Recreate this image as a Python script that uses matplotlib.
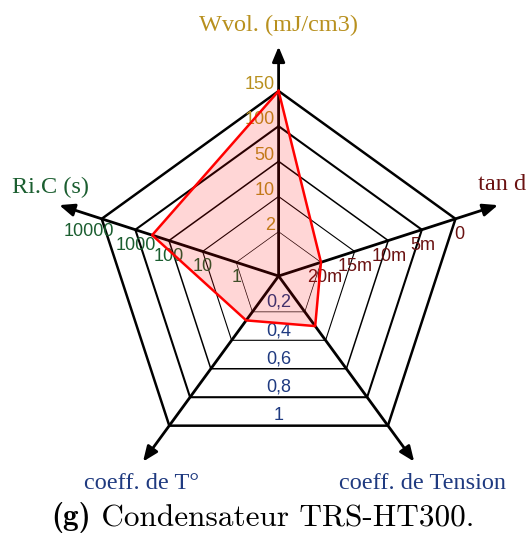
import numpy as np
import matplotlib.pyplot as plt

# axes of the radar, clockwise from top
axis_names = ["Wvol. (mJ/cm3)", "tan d", "coeff. de Tension", "coeff. de T°", "Ri.C (s)"]
axis_colors = ["#b8901e", "#6b1212", "#1f3a80", "#1f3a80", "#1b5e30"]
angles_deg = [90, 18, -54, -126, 162]

levels = [1, 2, 3, 4, 5]
wvol_ticks = ["2", "10", "50", "100", "150"]
tand_ticks = ["20m", "15m", "10m", "5m", "0"]
coeff_ticks = ["0,2", "0,4", "0,6", "0,8", "1"]
ric_ticks = ["1", "10", "100", "1000", "10000"]

# TRS-HT300 scores, in ring units (Wvol, tan d, coeff. Tension, coeff. T°, Ri.C)
trs_ht300 = [5, 1, 1.5, 1.3, 3.5]

angles = np.radians(angles_deg)


def radius(level):
    return (np.asarray(level, dtype=float) + 0.26) / 5.26


def point(level, ang):
    r = radius(level)
    return r * np.cos(ang), r * np.sin(ang)


fig = plt.figure(figsize=(5.26, 5.36), dpi=100)
ax = fig.add_axes([0, 0, 1, 1])
ax.set_xlim(-278.6 / 186, (526 - 278.6) / 186)
ax.set_ylim(-(536 - 276) / 185, 276 / 185)
ax.axis("off")

# rings
ring_lw = [0.5, 0.8, 1.1, 1.5, 1.8]
for k, lw in zip(levels, ring_lw):
    xs, ys = point(k, np.append(angles, angles[0]))
    ax.plot(xs, ys, color="black", lw=lw, zorder=1, solid_joinstyle="miter")

# spokes with arrows
for ang in angles:
    tip = (1.24 * np.cos(ang), 1.24 * np.sin(ang))
    ax.annotate("", xy=tip, xytext=(0, 0),
                arrowprops=dict(arrowstyle="-|>,head_length=0.6,head_width=0.25",
                                mutation_scale=15, lw=2.0, color="black",
                                shrinkA=0, shrinkB=0), zorder=1)

# axis titles
serif = "Liberation Serif"
fs_title = 17.5
ax.text(0, 1.357, axis_names[0], color=axis_colors[0], fontsize=fs_title, family=serif,
        ha="center", va="center")
ax.text(1.072, 0.492, axis_names[1], color=axis_colors[1], fontsize=fs_title, family=serif,
        ha="left", va="center")
ax.text(0.776, -1.119, axis_names[2], color=axis_colors[2], fontsize=fs_title, family=serif,
        ha="center", va="center")
ax.text(-0.736, -1.119, axis_names[3], color=axis_colors[3], fontsize=fs_title, family=serif,
        ha="center", va="center")
ax.text(-1.224, 0.476, axis_names[4], color=axis_colors[4], fontsize=fs_title, family=serif,
        ha="center", va="center")

# tick labels
sans = "Liberation Sans"
fs_tick = 13
for k, lab in zip(levels, wvol_ticks):
    x, y = point(k, angles[0])
    ax.text(x - 0.02, y + 0.034, lab, color=axis_colors[0], fontsize=fs_tick, family=sans,
            ha="right", va="center", zorder=2)
for k, lab in zip(levels, tand_ticks):
    x, y = point(k, angles[1])
    dx = 0.02 if k in (1, 5) else 0.005
    ax.text(x + dx, y - 0.084, lab, color=axis_colors[1], fontsize=fs_tick, family=sans,
            ha="center", va="center", zorder=2)
for k, lab in zip(levels, ric_ticks):
    x, y = point(k, angles[4])
    dx = -0.07 if k == 5 else 0.0
    dy = -0.068 if k == 5 else -0.084
    ax.text(x + dx, y + dy, lab, color=axis_colors[4], fontsize=fs_tick, family=sans,
            ha="center", va="center", zorder=2)
for k, lab in zip(levels, coeff_ticks):
    x, y = point(k, angles[2])
    ax.text(0, y + 0.053, lab, color=axis_colors[2], fontsize=fs_tick, family=sans,
            ha="center", va="center", zorder=2)

# data polygon
xs, ys = point(trs_ht300, angles)
ax.fill(xs, ys, color="red", alpha=0.16, lw=0, zorder=3)
ax.plot(np.append(xs, xs[0]), np.append(ys, ys[0]), color="red", lw=1.8, zorder=4)

# caption
t1 = ax.text(-1.22, -1.305, "(g)", fontsize=22.5, family="cmb10", ha="left", va="center")
ax.annotate(" Condensateur TRS-HT300.", xy=(1, 0), xycoords=t1, fontsize=22.5,
            family="cmr10", ha="left", va="bottom")

fig.savefig("out.png", dpi=100)
